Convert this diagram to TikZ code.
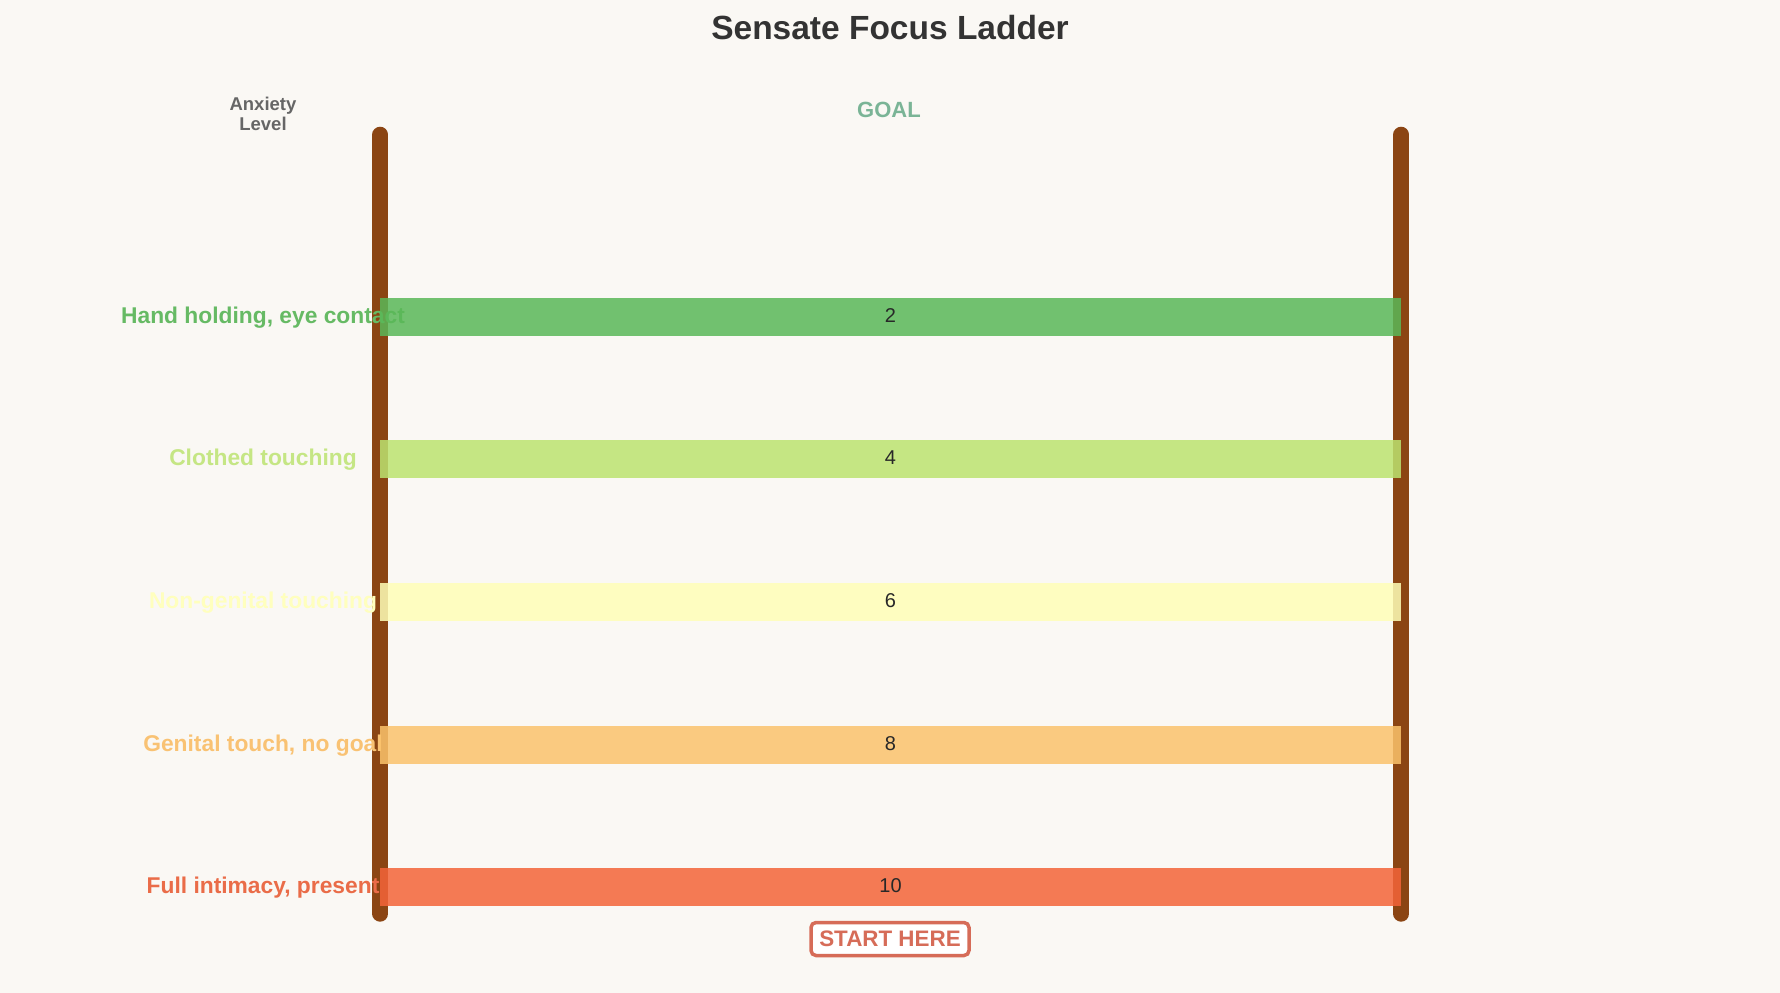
\documentclass[tikz,border=0pt]{standalone}
\usepackage{fontspec}
\setmainfont{Liberation Sans}
\begin{document}
\begin{tikzpicture}[x=1pt,y=-1pt,
  rail/.style={line width=16pt,line cap=round,draw=railbrown},
  rung/.style={fill opacity=0.85,draw=none},
  steplabel/.style={font=\fontsize{22.8}{26}\selectfont\bfseries,anchor=base},
  rungnum/.style={font=\fontsize{20}{24}\selectfont,text=numgray,anchor=base},
]
\definecolor{bg}{RGB}{250,248,244}
\definecolor{railbrown}{RGB}{139,69,19}
\definecolor{titlegray}{RGB}{51,51,51}
\definecolor{numgray}{RGB}{40,40,40}
\definecolor{goalgreen}{RGB}{122,180,150}
\definecolor{anxgray}{RGB}{102,102,102}
\definecolor{startred}{RGB}{214,108,88}
\definecolor{cA}{RGB}{90,184,88}
\definecolor{cB}{RGB}{188,227,112}
\definecolor{cC}{RGB}{255,255,184}
\definecolor{cD}{RGB}{251,195,108}
\definecolor{cE}{RGB}{244,100,57}
\definecolor{tA}{RGB}{102,186,100}
\definecolor{tB}{RGB}{197,230,132}
\definecolor{tC}{RGB}{255,255,190}
\definecolor{tD}{RGB}{249,194,115}
\definecolor{tE}{RGB}{234,108,72}

\fill[bg] (0,0) rectangle (1780,993);
\useasboundingbox (0,0) rectangle (1780,993);

% title and headers
\node[font=\fontsize{33.5}{38}\selectfont\bfseries,text=titlegray,anchor=base] (title) at (890,39) {Sensate Focus Ladder};
\node[font=\fontsize{22}{26}\selectfont\bfseries,text=goalgreen,anchor=base] (goal) at (889,117.3) {GOAL};
\node[font=\fontsize{18.5}{20}\selectfont\bfseries,text=anxgray,anchor=base] (anx1) at (263,110.7) {Anxiety};
\node[font=\fontsize{18.5}{20}\selectfont\bfseries,text=anxgray,anchor=base] (anx2) at (263,130.7) {Level};

% rails
\coordinate (LT) at (380.3,134.7);
\coordinate (LB) at (380.3,913.7);
\coordinate (RT) at (1401.3,134.7);
\coordinate (RB) at (1401.3,913.7);
\draw[rail] (LT) -- (LB);
\draw[rail] (RT) -- (RB);

% step labels
\node[steplabel,text=tA] (lA) at (263,323) {Hand holding, eye contact};
\node[steplabel,text=tB] (lB) at (263,465) {Clothed touching};
\node[steplabel,text=tC] (lC) at (263,608) {Non-genital touching};
\node[steplabel,text=tD] (lD) at (263,751) {Genital touch, no goal};
\node[steplabel,text=tE] (lE) at (263,893) {Full intimacy, present};

% rungs
\fill[rung,cA] (380,298.3) rectangle (1401,335.7);
\fill[rung,cB] (380,440.3) rectangle (1401,477.7);
\fill[rung,cC] (380,583.3) rectangle (1401,620.7);
\fill[rung,cD] (380,726.3) rectangle (1401,763.7);
\fill[rung,cE] (380,868.3) rectangle (1401,905.7);

\node[rungnum] (nA) at (890.5,322) {2};
\node[rungnum] (nB) at (890.5,464) {4};
\node[rungnum] (nC) at (890.5,607) {6};
\node[rungnum] (nD) at (890.5,750) {8};
\node[rungnum] (nE) at (890.5,892) {10};

% start here
\node[draw=startred,line width=3.5pt,rounded corners=5pt,fill=white,
  text=startred,font=\fontsize{22.4}{26}\selectfont\bfseries,
  minimum width=158pt,minimum height=33pt,inner sep=0pt] (start) at (890,939) {START HERE};
\end{tikzpicture}
\end{document}
